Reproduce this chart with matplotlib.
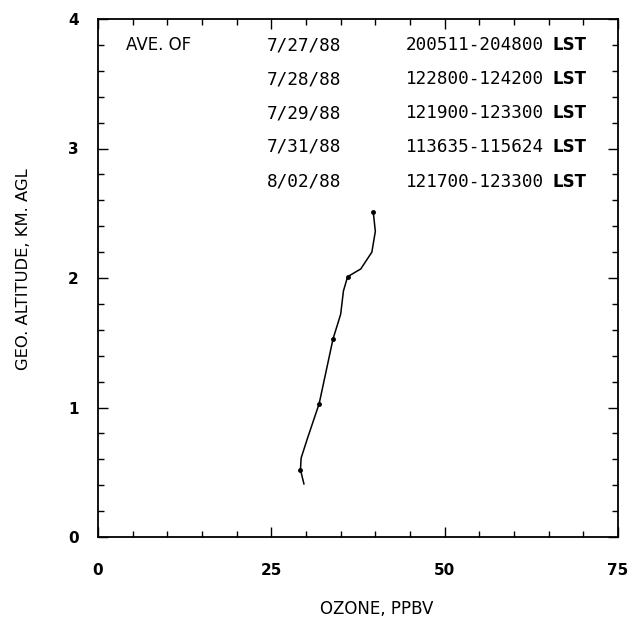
import numpy as np
import matplotlib
matplotlib.use("Agg")
import matplotlib.pyplot as plt
from matplotlib.ticker import MultipleLocator

# ozone profile (ppbv vs km AGL)
ozone = [39.7, 40.0, 39.5, 37.9, 36.0, 35.4, 35.0, 33.9, 33.1, 32.3, 31.9, 30.2, 29.3, 29.2, 29.7]
altitude = [2.51, 2.36, 2.20, 2.07, 2.01, 1.90, 1.72, 1.53, 1.33, 1.13, 1.03, 0.76, 0.61, 0.52, 0.41]
marker_idx = [0, 4, 7, 10, 13]

dates = ["7/27/88", "7/28/88", "7/29/88", "7/31/88", "8/02/88"]
times = ["200511-204800 LST", "122800-124200 LST", "121900-123300 LST",
         "113635-115624 LST", "121700-123300 LST"]

W, H = 631, 621
fig = plt.figure(figsize=(W / 100, H / 100), dpi=100)
ax = fig.add_axes([98 / W, 1 - 537 / H, (618 - 98) / W, (537 - 19) / H])

ax.plot(ozone, altitude, color="black", lw=1.1)
ax.plot([ozone[i] for i in marker_idx], [altitude[i] for i in marker_idx],
        "o", color="black", ms=2.5)

ax.set_xlim(0, 75)
ax.set_ylim(0, 4)
ax.xaxis.set_major_locator(MultipleLocator(25))
ax.xaxis.set_minor_locator(MultipleLocator(5))
ax.yaxis.set_major_locator(MultipleLocator(1))
ax.yaxis.set_minor_locator(MultipleLocator(0.2))
ax.tick_params(which="both", direction="in", top=True, right=True, width=1)
ax.tick_params(which="major", length=7)
ax.tick_params(which="minor", length=4)
ax.tick_params(axis="x", pad=19, labelsize=11)
ax.tick_params(axis="y", pad=14, labelsize=11)
for lab in ax.get_xticklabels() + ax.get_yticklabels():
    lab.set_fontweight("bold")
for s in ax.spines.values():
    s.set_linewidth(1.3)

# header block inside the plot
ys = [45, 79, 113, 147, 182]
fig.text(126 / W, 1 - ys[0] / H, "AVE. OF", fontsize=12, va="center", ha="left")
for y, d, t in zip(ys, dates, times):
    rng, zone = t.rsplit(" ", 1)
    fig.text(304 / W, 1 - y / H, d, fontsize=12.8, family="DejaVu Sans Mono",
             va="center", ha="center")
    fig.text(544 / W, 1 - y / H, rng, fontsize=12.7, family="DejaVu Sans Mono",
             va="center", ha="right")
    fig.text(552 / W, 1 - y / H, zone, fontsize=12, fontweight="bold",
             va="center", ha="left")

fig.text(377 / W, 1 - 609 / H, "OZONE, PPBV", fontsize=12, ha="center", va="center")
fig.text(24 / W, 1 - 269 / H, "GEO. ALTITUDE, KM. AGL", fontsize=11.8,
         ha="center", va="center", rotation=90)

fig.savefig("out.png", dpi=100)
